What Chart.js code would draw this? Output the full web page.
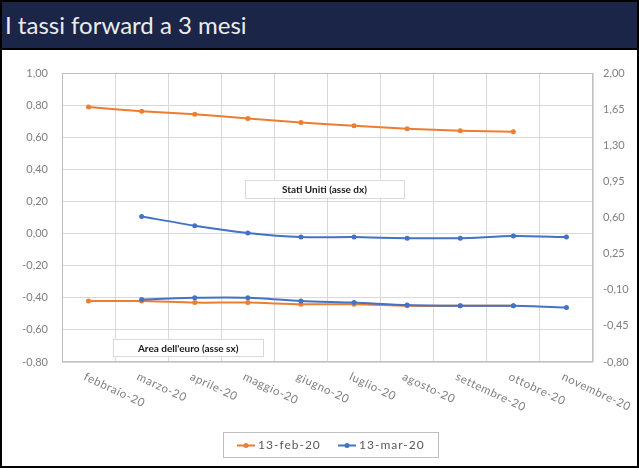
<!DOCTYPE html>
<html>
<head>
<meta charset="utf-8">
<script src="https://cdn.jsdelivr.net/npm/chart.js@4/dist/chart.umd.min.js"></script>
<style>
  html, body { margin: 0; padding: 0; background: #fff; }
  #wrap { position: relative; width: 639px; height: 468px; overflow: hidden; }
  #frame { position: absolute; left: 0; top: 0; width: 635px; height: 464px; border: 2px solid #000; pointer-events: none; z-index: 3; }
  #title { position: absolute; left: 2px; top: 2px; width: 637px; height: 48px; background: #1a2548; border-bottom: 2px solid #000;
           color: #ececec; font-family: "Lato", "Open Sans", sans-serif; font-size: 24px; line-height: 46px; padding-left: 3px; box-sizing: border-box; z-index: 2; }
  canvas { position: absolute; left: 0; top: 0; }
</style>
</head>
<body>
<div id="wrap">
  <canvas id="c" width="639" height="468"></canvas>
  <div id="title">I tassi forward a 3 mesi</div>
  <div id="frame"></div>
</div>
<script>
const categories = ["febbraio-20","marzo-20","aprile-20","maggio-20","giugno-20","luglio-20","agosto-20","settembre-20","ottobre-20","novembre-20"];
const seriesNames = ["13-feb-20","13-mar-20"];
// Area dell'euro (asse sx)
const euroFeb = [-0.42,-0.42,-0.43,-0.43,-0.44,-0.44,-0.45,-0.45,-0.45,null];
const euroMar = [null,-0.41,-0.40,-0.40,-0.42,-0.43,-0.445,-0.45,-0.45,-0.46];
// Stati Uniti (asse dx)
const usFeb = [1.67,1.63,1.60,1.56,1.52,1.49,1.46,1.44,1.43,null];
const usMar = [null,0.61,0.52,0.45,0.41,0.41,0.40,0.40,0.42,0.41];
const leftTicks = [-0.80,-0.60,-0.40,-0.20,0.00,0.20,0.40,0.60,0.80,1.00];
const rightTicks = [-0.80,-0.45,-0.10,0.25,0.60,0.95,1.30,1.65,2.00];
const annotationTexts = ["Stati Uniti (asse dx)","Area dell'euro (asse sx)"];

const ORANGE = "#ED7D31", BLUE = "#4472C4";
const FONT = "Lato, 'Open Sans', sans-serif";
const fmt = v => v.toFixed(2).replace('.', ',');

function ds(label, data, color, axis, order) {
  return { label, data, yAxisID: axis, borderColor: color, backgroundColor: color,
    borderWidth: 2, pointRadius: 2.5, pointHoverRadius: 2.5, pointBorderWidth: 0,
    tension: 0.25, spanGaps: false, order };
}

const decor = {
  id: 'decor',
  beforeDatasetsDraw(chart) {
    const { ctx, chartArea: a } = chart;
    ctx.save();
    ctx.strokeStyle = '#bfbfbf';
    ctx.lineWidth = 1;
    ctx.strokeRect(a.left + 0.5, a.top + 0.5, a.right - a.left - 1, a.bottom - a.top - 1);
    ctx.restore();
  },
  afterDraw(chart) {
    const { ctx } = chart;
    const x = chart.scales.x;
    const yl = chart.scales.yL;
    ctx.save();
    // rotated category labels
    ctx.fillStyle = '#7f7f7f';
    ctx.font = "11.5px " + FONT;
    ctx.letterSpacing = '0.6px';
    ctx.textAlign = 'left';
    ctx.textBaseline = 'middle';
    categories.forEach((c, i) => {
      const px = x.getPixelForValue(i);
      ctx.save();
      ctx.translate(px - 4, chart.chartArea.bottom + 14);
      ctx.rotate(25 * Math.PI / 180);
      ctx.fillText(c, 0, 0);
      ctx.restore();
    });
    ctx.letterSpacing = '0px';
    // annotation boxes
    function box(text, cx, cy, w, h) {
      ctx.fillStyle = '#fff';
      ctx.fillRect(cx - w / 2, cy - h / 2, w, h);
      ctx.strokeStyle = '#d9d9d9';
      ctx.lineWidth = 1;
      ctx.strokeRect(Math.round(cx - w / 2) + 0.5, Math.round(cy - h / 2) + 0.5, w, h);
      ctx.fillStyle = '#1a1a1a';
      ctx.font = "bold 10px " + FONT;
      ctx.textAlign = 'center';
      ctx.textBaseline = 'middle';
      ctx.fillText(text, cx, cy + 1);
    }
    const bx1 = (x.getPixelForValue(3) + x.getPixelForValue(6)) / 2;
    box(annotationTexts[0], bx1 - 3, yl.getPixelForValue(0.28), 159, 18);
    const bx2 = (x.getPixelForValue(0) + x.getPixelForValue(3)) / 2 + 50;
    box(annotationTexts[1], bx2 - 30, yl.getPixelForValue(-0.71), 150, 17);
    // legend
    const lx = 223, ly = 432, lw = 215, lh = 25;
    ctx.strokeStyle = '#bfbfbf';
    ctx.lineWidth = 1;
    ctx.strokeRect(lx + 0.5, ly + 0.5, lw, lh);
    const items = [[seriesNames[0], ORANGE, 237], [seriesNames[1], BLUE, 338]];
    ctx.font = "12px " + FONT;
    ctx.letterSpacing = '1px';
    ctx.textAlign = 'left';
    ctx.textBaseline = 'middle';
    const my = ly + lh / 2 + 1;
    items.forEach(([t, col, sx]) => {
      ctx.strokeStyle = col; ctx.lineWidth = 2;
      ctx.beginPath(); ctx.moveTo(sx, my); ctx.lineTo(sx + 18, my); ctx.stroke();
      ctx.fillStyle = col;
      ctx.beginPath(); ctx.arc(sx + 9, my, 2.5, 0, Math.PI * 2); ctx.fill();
      ctx.fillStyle = '#595959';
      ctx.fillText(t, sx + 21, my);
    });
    ctx.restore();
  }
};

new Chart(document.getElementById('c'), {
  type: 'line',
  data: {
    labels: categories,
    datasets: [
      ds(seriesNames[0], euroFeb, ORANGE, 'yL', 1),
      ds(seriesNames[1], euroMar, BLUE, 'yL', 0),
      ds(seriesNames[0], usFeb, ORANGE, 'yR', 1),
      ds(seriesNames[1], usMar, BLUE, 'yR', 0)
    ]
  },
  options: {
    responsive: false,
    animation: false,
    events: [],
    layout: { padding: { top: 73, left: 0, right: 0, bottom: 0 } },
    plugins: { legend: { display: false }, tooltip: { enabled: false } },
    scales: {
      x: {
        offset: true,
        grid: { offset: true, color: '#d9d9d9', drawTicks: false },
        border: { display: false },
        ticks: { display: false },
        afterFit(s) { s.height = 106; }
      },
      yL: {
        position: 'left',
        min: -0.8, max: 1.0,
        grid: { color: '#d9d9d9', drawTicks: false },
        border: { display: false },
        afterBuildTicks(s) { s.ticks = leftTicks.map(v => ({ value: v })); },
        ticks: { padding: 14, color: '#7f7f7f', font: { family: FONT, size: 11 }, callback: v => fmt(v) },
        afterFit(s) { s.width = 62; }
      },
      yR: {
        position: 'right',
        min: -0.8, max: 2.0,
        grid: { display: false, drawTicks: false },
        border: { display: false },
        afterBuildTicks(s) { s.ticks = rightTicks.map(v => ({ value: v })); },
        ticks: { padding: 10, color: '#7f7f7f', font: { family: FONT, size: 11 }, callback: v => fmt(v) },
        afterFit(s) { s.width = 46; }
      }
    }
  },
  plugins: [decor]
});
</script>
</body>
</html>
